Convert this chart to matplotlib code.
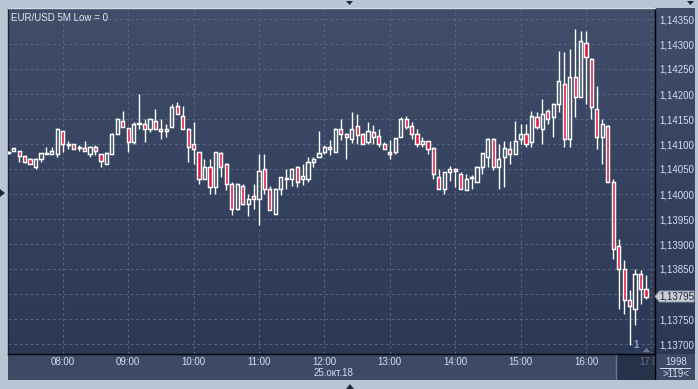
import numpy as np
import pandas as pd
import matplotlib
matplotlib.use("Agg")
import matplotlib.pyplot as plt
from matplotlib.patches import Polygon, Rectangle
from matplotlib.colors import LinearSegmentedColormap

# ---------------- data ----------------
times = pd.date_range("2018-10-25 07:10", periods=118, freq="5min")

opens = [1.14082, 1.14086, 1.14086, 1.14076, 1.14071, 1.14055, 1.14071, 1.14081, 1.14081, 1.14081,
         1.14125, 1.14099, 1.14101, 1.14093, 1.14091, 1.14081, 1.14095, 1.14080, 1.14061, 1.14081,
         1.14121, 1.14146, 1.14131, 1.14105, 1.14141, 1.14141, 1.14131, 1.14145, 1.14131, 1.14126,
         1.14135, 1.14175, 1.14155, 1.14131, 1.14101, 1.14085, 1.14031, 1.14055, 1.14015, 1.14081,
         1.14061, 1.14021, 1.13971, 1.14015, 1.13981, 1.13997, 1.13991, 1.14051, 1.14011, 1.13961,
         1.14011, 1.14031, 1.14031, 1.14055, 1.14031, 1.14031, 1.14065, 1.14075, 1.14085, 1.14095,
         1.14085, 1.14131, 1.14121, 1.14111, 1.14136, 1.14121, 1.14105, 1.14125, 1.14115, 1.14101,
         1.14085, 1.14085, 1.14115, 1.14151, 1.14135, 1.14121, 1.14101, 1.14106, 1.14091, 1.14035,
         1.14011, 1.14045, 1.14051, 1.14041, 1.14008, 1.14033, 1.14025, 1.14055, 1.14075, 1.14111,
         1.14055, 1.14075, 1.14091, 1.14081, 1.14111, 1.14121, 1.14105, 1.14155, 1.14131, 1.14165,
         1.14155, 1.14181, 1.14221, 1.14111, 1.14235, 1.14195, 1.14303, 1.14271, 1.14171, 1.14115,
         1.14135, 1.14025, 1.13897, 1.13851, 1.13788, 1.13771, 1.13841, 1.13811]
highs = [1.14086, 1.14092, 1.14086, 1.14079, 1.14073, 1.14073, 1.14083, 1.14095, 1.14095, 1.14132,
         1.14125, 1.14106, 1.14101, 1.14099, 1.14106, 1.14097, 1.14099, 1.14081, 1.14084, 1.14122,
         1.14152, 1.14166, 1.14132, 1.14145, 1.14201, 1.14151, 1.14152, 1.14171, 1.14151, 1.14141,
         1.14181, 1.14185, 1.14176, 1.14132, 1.14145, 1.14085, 1.14071, 1.14071, 1.14085, 1.14085,
         1.14062, 1.14024, 1.14022, 1.14021, 1.14000, 1.14021, 1.14081, 1.14081, 1.14016, 1.14012,
         1.14035, 1.14051, 1.14052, 1.14056, 1.14061, 1.14075, 1.14075, 1.14126, 1.14098, 1.14108,
         1.14132, 1.14151, 1.14122, 1.14165, 1.14161, 1.14122, 1.14145, 1.14138, 1.14131, 1.14105,
         1.14108, 1.14112, 1.14155, 1.14156, 1.14145, 1.14131, 1.14115, 1.14106, 1.14095, 1.14051,
         1.14045, 1.14056, 1.14052, 1.14044, 1.14041, 1.14038, 1.14056, 1.14082, 1.14112, 1.14112,
         1.14101, 1.14106, 1.14106, 1.14146, 1.14141, 1.14141, 1.14167, 1.14165, 1.14191, 1.14171,
         1.14182, 1.14286, 1.14285, 1.14291, 1.14331, 1.14326, 1.14326, 1.14272, 1.14216, 1.14151,
         1.14138, 1.14031, 1.13911, 1.13868, 1.13808, 1.13851, 1.13848, 1.13838]
lows = [1.14080, 1.14086, 1.14065, 1.14062, 1.14060, 1.14051, 1.14065, 1.14080, 1.14081, 1.14075,
        1.14085, 1.14091, 1.14091, 1.14086, 1.14086, 1.14075, 1.14078, 1.14055, 1.14061, 1.14081,
        1.14121, 1.14135, 1.14085, 1.14101, 1.14131, 1.14105, 1.14125, 1.14131, 1.14111, 1.14115,
        1.14135, 1.14161, 1.14131, 1.14065, 1.14061, 1.14021, 1.14031, 1.14001, 1.14001, 1.14035,
        1.14008, 1.13958, 1.13968, 1.13978, 1.13956, 1.13971, 1.13938, 1.14001, 1.13968, 1.13961,
        1.13998, 1.14010, 1.14016, 1.14015, 1.14018, 1.14025, 1.14055, 1.14075, 1.14081, 1.14078,
        1.14085, 1.14108, 1.14071, 1.14102, 1.14101, 1.14101, 1.14101, 1.14101, 1.14095, 1.14091,
        1.14071, 1.14081, 1.14115, 1.14131, 1.14111, 1.14095, 1.14095, 1.14081, 1.14031, 1.14010,
        1.14001, 1.14026, 1.14015, 1.14011, 1.14008, 1.14010, 1.14025, 1.14041, 1.14055, 1.14048,
        1.14011, 1.14015, 1.14061, 1.14081, 1.14101, 1.14095, 1.14095, 1.14131, 1.14101, 1.14141,
        1.14115, 1.14165, 1.14095, 1.14095, 1.14155, 1.14195, 1.14181, 1.14151, 1.14091, 1.14061,
        1.14025, 1.13871, 1.13771, 1.13761, 1.13698, 1.13738, 1.13781, 1.13791]
closes = [1.14085, 1.14091, 1.14076, 1.14065, 1.14060, 1.14071, 1.14081, 1.14082, 1.14086, 1.14131,
          1.14101, 1.14100, 1.14091, 1.14092, 1.14086, 1.14095, 1.14086, 1.14066, 1.14081, 1.14121,
          1.14151, 1.14135, 1.14105, 1.14141, 1.14142, 1.14131, 1.14151, 1.14131, 1.14126, 1.14131,
          1.14175, 1.14161, 1.14131, 1.14095, 1.14091, 1.14031, 1.14055, 1.14015, 1.14085, 1.14055,
          1.14021, 1.13971, 1.14021, 1.13981, 1.13991, 1.13991, 1.14046, 1.14011, 1.13968, 1.14011,
          1.14035, 1.14032, 1.14051, 1.14025, 1.14036, 1.14065, 1.14071, 1.14081, 1.14095, 1.14091,
          1.14131, 1.14121, 1.14115, 1.14131, 1.14118, 1.14101, 1.14125, 1.14115, 1.14101, 1.14091,
          1.14081, 1.14111, 1.14151, 1.14135, 1.14121, 1.14101, 1.14106, 1.14091, 1.14041, 1.14011,
          1.14045, 1.14051, 1.14046, 1.14011, 1.14031, 1.14034, 1.14055, 1.14081, 1.14111, 1.14055,
          1.14071, 1.14091, 1.14081, 1.14106, 1.14121, 1.14101, 1.14155, 1.14135, 1.14161, 1.14151,
          1.14181, 1.14226, 1.14111, 1.14235, 1.14195, 1.14306, 1.14275, 1.14175, 1.14115, 1.14141,
          1.14025, 1.13891, 1.13851, 1.13788, 1.13776, 1.13841, 1.13811, 1.13795]

price_levels = [1.13700, 1.13750, 1.13800, 1.13850, 1.13900, 1.13950, 1.14000, 1.14050,
                1.14100, 1.14150, 1.14200, 1.14250, 1.14300, 1.14350]
hour_labels = ["08:00", "09:00", "10:00", "11:00", "12:00", "13:00", "14:00", "15:00", "16:00"]
title = "EUR/USD 5M Low = 0"
date_label = "25.окт.18"
last_price = 1.13795

# ---------------- layout ----------------
W, H = 698, 389
fig = plt.figure(figsize=(W / 100, H / 100), dpi=100)
fig.patch.set_facecolor("#b9c4d4")
plt.rcParams["font.family"] = ["Liberation Sans", "DejaVu Sans"]

def rect(x0, y0, x1, y1):
    return [x0 / W, 1 - y1 / H, (x1 - x0) / W, (y1 - y0) / H]

LBL = "#d3deef"
FS = 7.0

# background gradient panel (plot + right price scale)
bg = fig.add_axes(rect(8, 8, 695, 354))
grad = np.linspace(0, 1, 256).reshape(-1, 1)
cmap = LinearSegmentedColormap.from_list("g", ["#404e6a", "#2b3856"])
bg.imshow(grad, aspect="auto", cmap=cmap, extent=[0, 1, 0, 1])
bg.set_axis_off()

# bottom time panel
bt = fig.add_axes(rect(8, 354, 695, 380))
bt.set_facecolor("#3d4a66")
bt.set_xlim(0, 687)
bt.set_ylim(26, 0)
bt.add_patch(Rectangle((608, 0), 39, 26, facecolor="#26314a", edgecolor="none"))
bt.axvline(608, color="#6c7890", lw=1)
bt.axvline(647, color="black", lw=1)
bt.plot([652, 682], [14, 14], color=LBL, lw=0.7)
bt.text(668, 8, "1998", color=LBL, fontsize=FS, ha="center", va="center")
bt.text(668, 20, ">119<", color=LBL, fontsize=FS, ha="center", va="center")
bt.text(643, 8, "17:00", color="#63728f", fontsize=FS, ha="center", va="center",
        clip_on=True).set_clip_path(Rectangle((608, 0), 39, 26, transform=bt.transData))
bt.text(326, 19, date_label, color=LBL, fontsize=FS, ha="center", va="center")
for s in bt.spines.values():
    s.set_visible(False)
bt.set_xticks([]); bt.set_yticks([])

# main candle axes
ax = fig.add_axes(rect(8, 8, 655, 354))
ax.set_facecolor("none")
x = np.arange(len(opens))
ax.set_xlim(-0.05, 118.66)
ax.set_ylim(1.13680, 1.14372)

o = np.array(opens); h = np.array(highs); l = np.array(lows); c = np.array(closes)
top = np.maximum(o, c); bot = np.minimum(o, c)
up = c >= o

ax.vlines(x, top, h, color="white", lw=1, zorder=3)
ax.vlines(x, l, bot, color="white", lw=1, zorder=3)
hgt = np.maximum(top - bot, 0.000012)
ax.bar(x[up], hgt[up], bottom=bot[up], width=0.58, facecolor="none",
       edgecolor="white", linewidth=1.05, zorder=4)
ax.bar(x[~up], hgt[~up], bottom=bot[~up], width=0.58, facecolor="#e2143c",
       edgecolor="white", linewidth=1.05, zorder=4)

hour_pos = [i for i, t in enumerate(times) if t.minute == 0]
ax.set_xticks(hour_pos)
ax.set_xticklabels(hour_labels)
ax.set_yticks(price_levels)
ax.set_yticklabels([f"{p:.5f}".replace(".", ",") for p in price_levels])
ax.yaxis.tick_right()
ax.tick_params(axis="x", length=0, pad=2.4, labelsize=FS, labelcolor=LBL)
ax.tick_params(axis="y", length=0, pad=3, labelsize=FS, labelcolor=LBL)
ax.grid(True, color="#56657f", lw=0.8, linestyle=(0, (2.5, 2.5)))
ax.axvline(118, color="#56657f", lw=0.8, linestyle=(0, (2.5, 2.5)))
ax.spines["right"].set_color("black")
ax.spines["bottom"].set_color("black")
ax.spines["left"].set_color("#1b2231")
ax.spines["top"].set_color("#d2dae6")
for s in ax.spines.values():
    s.set_linewidth(1)

ax.text(0.004, 0.985, title, transform=ax.transAxes, color="#e2e8f3", fontsize=FS,
        ha="left", va="top")
ax.text(0.970, 0.012, "1", transform=ax.transAxes, color="#7fa6d6", fontsize=FS,
        ha="center", va="bottom", fontweight="bold")
ax.add_patch(Polygon([[0.981, 0.005], [0.9925, 0.005], [0.987, 0.018]], closed=True,
                     transform=ax.transAxes, facecolor="#6d7a92", edgecolor="none"))

# current price tag
yt = ax.transData.transform((0, last_price))[1]
ty = H - yt
def P(px, py):
    return (px / W, 1 - py / H)
tag = Polygon([P(655, ty), P(659.5, ty - 5.5), P(694, ty - 5.5), P(694, ty + 5.5), P(659.5, ty + 5.5)],
              closed=True, transform=fig.transFigure, facecolor="#c8cdd6", edgecolor="#8f98a8",
              lw=0.7, zorder=10)
fig.patches.append(tag)
fig.text(677 / W, 1 - ty / H, f"{last_price:.5f}".replace(".", ","), color="#1b2232",
         fontsize=FS, ha="center", va="center", zorder=11)

# frame markers
for pts in ([(346, 1), (353, 1), (349.5, 5)],
            [(0, 189), (0, 197), (5, 193)],
            [(346, 389), (354, 389), (350, 384)],
            [(687, 1), (694, 1), (690.5, 5)]):
    fig.patches.append(Polygon([P(*p) for p in pts], closed=True, transform=fig.transFigure,
                               facecolor="#1e2838", edgecolor="none"))

fig.savefig("out.png", dpi=100, facecolor=fig.get_facecolor())
